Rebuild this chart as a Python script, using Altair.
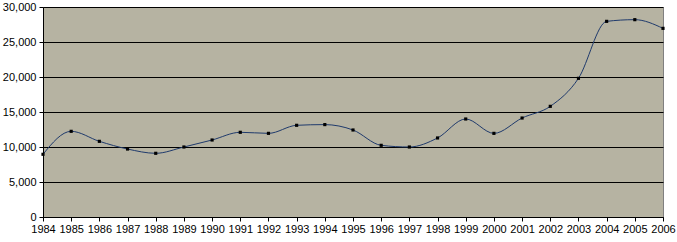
import altair as alt
import pandas as pd

years = list(range(1984, 2007))
values = [8960, 12240, 10810, 9710, 9100, 10000, 11000, 12100, 11950, 13100,
          13200, 12430, 10240, 10000, 11290, 14000, 11950, 14140, 15810, 19810,
          27950, 28190, 26950]

df = pd.DataFrame({"year": years, "value": values})

x = alt.X("year:Q", scale=alt.Scale(domain=[1984, 2006], nice=False, zero=False),
          axis=alt.Axis(values=years, format="d", title=None, grid=False,
                        labelOverlap=False, labelFont="Arial", labelFontSize=11,
                        labelColor="black", domainColor="black", tickColor="black",
                        tickSize=4, labelPadding=2, labelFlush=False))
y = alt.Y("value:Q", scale=alt.Scale(domain=[0, 30000], nice=False),
          axis=alt.Axis(values=[0, 5000, 10000, 15000, 20000, 25000, 30000],
                        format=",d", title=None, grid=True, gridColor="black",
                        gridWidth=1, gridOpacity=1, labelFont="Arial",
                        labelFontSize=11, labelColor="black", domainColor="black",
                        tickColor="black", tickSize=4, labelPadding=3))

line = alt.Chart(df).mark_line(interpolate="monotone", color="#1f3a6c",
                               strokeWidth=1).encode(x=x, y=y)
pts = alt.Chart(df).mark_point(shape="square", filled=True, size=10,
                               color="black", opacity=1).encode(x=x, y=y)

chart = (line + pts).properties(
    width=620, height=210,
    autosize=alt.AutoSizeParams(type="none"),
    padding={"left": 43, "top": 7, "right": 14, "bottom": 25},
    background="white",
).configure_view(fill="#b6b3a2", stroke="#808080", strokeWidth=1)

chart.save("out.html", embed_options={"renderer": "svg", "actions": False})
